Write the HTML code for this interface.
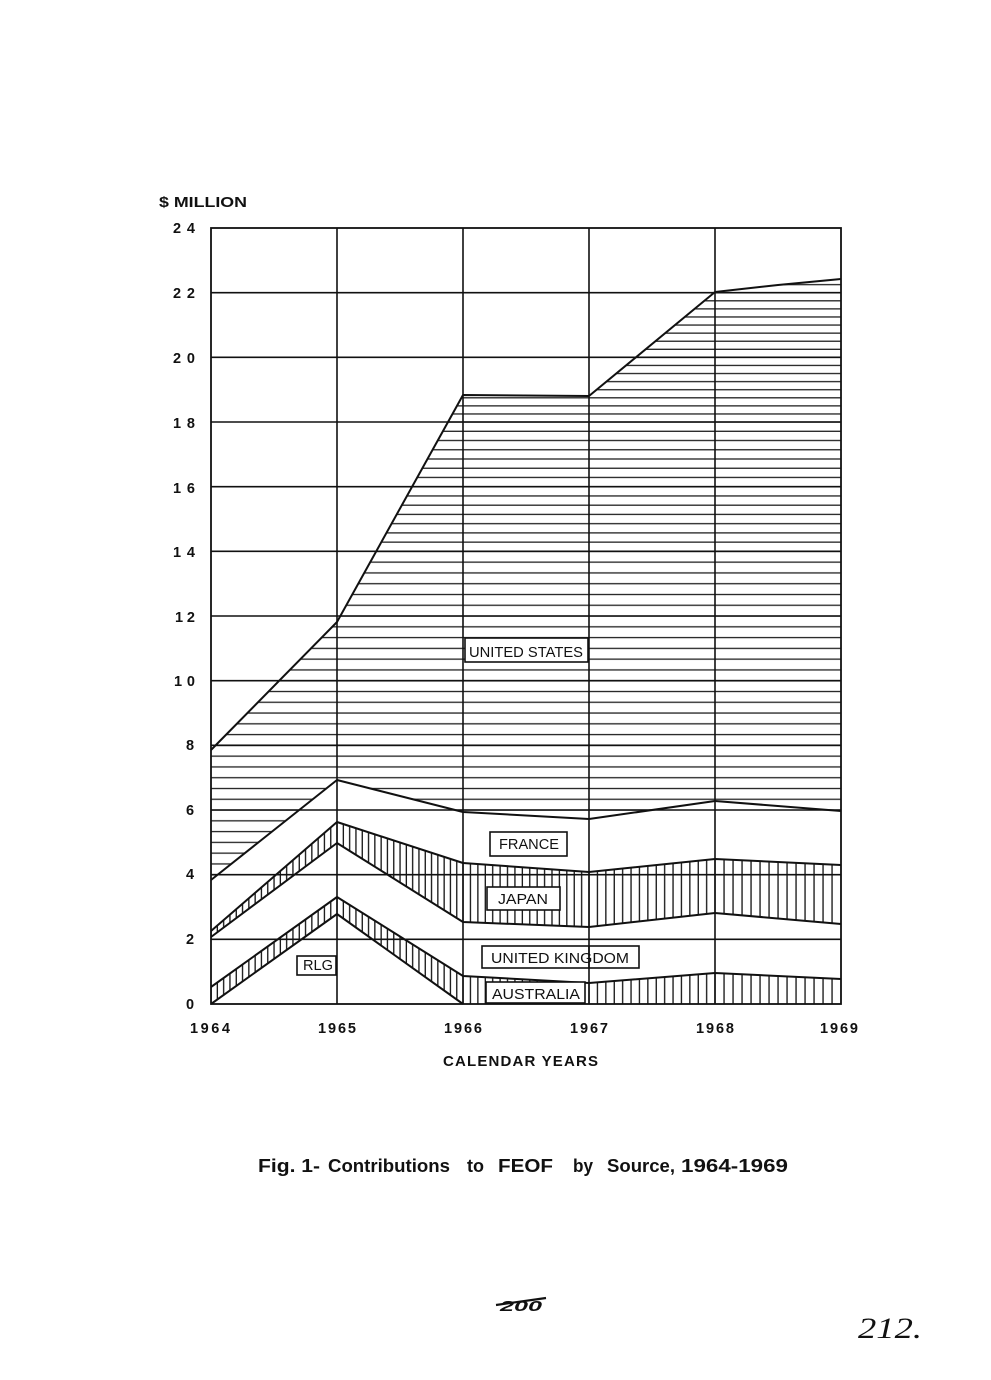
<!DOCTYPE html>
<html>
<head>
<meta charset="utf-8">
<style>
  html, body { margin: 0; padding: 0; background: #ffffff; }
  svg { display: block; }
  text { font-family: "Liberation Sans", "DejaVu Sans", sans-serif; fill: #111; }
</style>
</head>
<body>
<svg width="991" height="1380" viewBox="0 0 991 1380" xmlns="http://www.w3.org/2000/svg">
  <defs>
    <pattern id="hA" patternUnits="userSpaceOnUse" x="0" y="998.611" width="20" height="10.778">
      <rect x="0" y="4.789" width="20" height="1.3" fill="#222"/>
    </pattern>
    <pattern id="hB" patternUnits="userSpaceOnUse" x="0" y="546.71" width="20" height="9.238">
      <rect x="0" y="4.019" width="20" height="1.3" fill="#222"/>
    </pattern>
    <pattern id="hC" patternUnits="userSpaceOnUse" x="0" y="417.96" width="20" height="8.083">
      <rect x="0" y="3.442" width="20" height="1.3" fill="#222"/>
    </pattern>
    <pattern id="vA" patternUnits="userSpaceOnUse" x="207.85" y="0" width="6.3" height="20">
      <rect x="2.55" y="0" width="1.3" height="20" fill="#111"/>
    </pattern>
    <pattern id="vB" patternUnits="userSpaceOnUse" x="459.294" y="0" width="7.412" height="20">
      <rect x="3.106" y="0" width="1.3" height="20" fill="#111"/>
    </pattern>
    <pattern id="vC" patternUnits="userSpaceOnUse" x="584.8" y="0" width="8.4" height="20">
      <rect x="3.6" y="0" width="1.3" height="20" fill="#111"/>
    </pattern>
    <pattern id="vD" patternUnits="userSpaceOnUse" x="710.5" y="0" width="9" height="20">
      <rect x="3.9" y="0" width="1.3" height="20" fill="#111"/>
    </pattern>
    <clipPath id="cA"><rect x="200" y="551.33" width="660" height="460"/></clipPath>
    <clipPath id="cB"><rect x="200" y="422" width="660" height="129.33"/></clipPath>
    <clipPath id="cC"><rect x="200" y="200" width="660" height="222"/></clipPath>
  </defs>

  <rect x="0" y="0" width="991" height="1380" fill="#ffffff"/>

  <g>
    <polygon clip-path="url(#cA)" fill="url(#hA)" points="211,750 337,622 463,395 589,396 715,292 778,285 841,279 841,811 715,801 589,819 463,812 337,780 211,880"/>
    <polygon clip-path="url(#cB)" fill="url(#hB)" points="211,750 337,622 463,395 589,396 715,292 778,285 841,279 841,811 715,801 589,819 463,812 337,780 211,880"/>
    <polygon clip-path="url(#cC)" fill="url(#hC)" points="211,750 337,622 463,395 589,396 715,292 778,285 841,279 841,811 715,801 589,819 463,812 337,780 211,880"/>
  </g>

  <polygon fill="url(#vA)" points="211,987 337,897 463,976 463,1004 337,914 211,1004"/>
  <polygon fill="url(#vB)" points="463,976 589,983 589,1004 463,1004"/>
  <polygon fill="url(#vC)" points="589,983 715,973 715,1004 589,1004"/>
  <polygon fill="url(#vD)" points="715,973 841,979 841,1004 715,1004"/>

  <polygon fill="url(#vA)" points="211,931 337,822 463,863 463,922 337,843 211,937"/>
  <polygon fill="url(#vB)" points="463,863 589,872 589,927 463,922"/>
  <polygon fill="url(#vC)" points="589,872 715,859 715,913 589,927"/>
  <polygon fill="url(#vD)" points="715,859 841,865 841,924 715,913"/>

  <g fill="none" stroke="#111" stroke-width="2" stroke-linejoin="round">
    <polyline points="211,1004 337,914 463,1004"/>
    <polyline points="211,987 337,897 463,976 589,983 715,973 841,979"/>
    <polyline points="211,937 337,843 463,922 589,927 715,913 841,924"/>
    <polyline points="211,931 337,822 463,863 589,872 715,859 841,865"/>
    <polyline points="211,880 337,780 463,812 589,819 715,801 841,811"/>
    <polyline points="211,750 337,622 463,395 589,396 715,292 778,285 841,279"/>
  </g>

  <g fill="#ffffff" stroke="#111" stroke-width="1.6">
    <rect x="465" y="638" width="123" height="24"/>
    <rect x="490" y="832" width="77" height="24"/>
    <rect x="487" y="887" width="73" height="23"/>
    <rect x="482" y="946" width="157" height="22"/>
    <rect x="486" y="982" width="99" height="21"/>
    <rect x="297" y="956" width="39" height="19"/>
  </g>

  <g stroke="#111" stroke-width="1.6" fill="none">
    <line x1="211" y1="939.33" x2="841" y2="939.33"/>
    <line x1="211" y1="874.67" x2="841" y2="874.67"/>
    <line x1="211" y1="810" x2="841" y2="810"/>
    <line x1="211" y1="745.33" x2="841" y2="745.33"/>
    <line x1="211" y1="680.67" x2="841" y2="680.67"/>
    <line x1="211" y1="616" x2="841" y2="616"/>
    <line x1="211" y1="551.33" x2="841" y2="551.33"/>
    <line x1="211" y1="486.67" x2="841" y2="486.67"/>
    <line x1="211" y1="422" x2="841" y2="422"/>
    <line x1="211" y1="357.33" x2="841" y2="357.33"/>
    <line x1="211" y1="292.67" x2="841" y2="292.67"/>
    <line x1="337" y1="228" x2="337" y2="1004"/>
    <line x1="463" y1="228" x2="463" y2="1004"/>
    <line x1="589" y1="228" x2="589" y2="1004"/>
    <line x1="715" y1="228" x2="715" y2="1004"/>
    <rect x="211" y="228" width="630" height="776" stroke-width="1.8"/>
  </g>

  <g font-size="14.5">
    <text x="469" y="657" textLength="114" lengthAdjust="spacingAndGlyphs">UNITED STATES</text>
    <text x="499" y="849" textLength="60" lengthAdjust="spacingAndGlyphs">FRANCE</text>
    <text x="498" y="904" textLength="50" lengthAdjust="spacingAndGlyphs">JAPAN</text>
    <text x="491" y="963" textLength="138" lengthAdjust="spacingAndGlyphs">UNITED KINGDOM</text>
    <text x="492" y="999" textLength="88" lengthAdjust="spacingAndGlyphs">AUSTRALIA</text>
    <text x="303" y="970" textLength="30" lengthAdjust="spacingAndGlyphs">RLG</text>
  </g>
  <line x1="589" y1="946" x2="589" y2="968" stroke="#111" stroke-width="1.6"/>

  <text x="159" y="207" font-size="15" font-weight="bold" textLength="88" lengthAdjust="spacingAndGlyphs">$  MILLION</text>

  <g font-size="14.5" font-weight="bold">
    <text x="173" y="233" textLength="22" lengthAdjust="spacing">24</text>
    <text x="173" y="298" textLength="22" lengthAdjust="spacing">22</text>
    <text x="173" y="363" textLength="22" lengthAdjust="spacing">20</text>
    <text x="173" y="428" textLength="22" lengthAdjust="spacing">18</text>
    <text x="173" y="493" textLength="22" lengthAdjust="spacing">16</text>
    <text x="173" y="557" textLength="22" lengthAdjust="spacing">14</text>
    <text x="175" y="622" textLength="20" lengthAdjust="spacing">12</text>
    <text x="174" y="686" textLength="21" lengthAdjust="spacing">10</text>
    <text x="186" y="750">8</text>
    <text x="186" y="815">6</text>
    <text x="186" y="879">4</text>
    <text x="186" y="944">2</text>
    <text x="186" y="1009">0</text>
  </g>

  <g font-size="14.5" font-weight="bold" text-anchor="middle">
    <text x="210" y="1033" textLength="40" lengthAdjust="spacing">1964</text>
    <text x="337" y="1033" textLength="38" lengthAdjust="spacing">1965</text>
    <text x="463" y="1033" textLength="38" lengthAdjust="spacing">1966</text>
    <text x="589" y="1033" textLength="38" lengthAdjust="spacing">1967</text>
    <text x="715" y="1033" textLength="38" lengthAdjust="spacing">1968</text>
    <text x="839" y="1033" textLength="38" lengthAdjust="spacing">1969</text>
  </g>

  <text x="443" y="1066" font-size="15" font-weight="bold" textLength="155" lengthAdjust="spacing">CALENDAR  YEARS</text>

  <!-- caption, placed word by word -->
  <g font-size="18.5" font-weight="bold">
    <text x="258" y="1172" textLength="62" lengthAdjust="spacingAndGlyphs">Fig. 1-</text>
    <text x="328" y="1172" textLength="122" lengthAdjust="spacingAndGlyphs">Contributions</text>
    <text x="467" y="1172" textLength="17" lengthAdjust="spacingAndGlyphs">to</text>
    <text x="498" y="1172" textLength="55" lengthAdjust="spacingAndGlyphs">FEOF</text>
    <text x="573" y="1172" textLength="20" lengthAdjust="spacingAndGlyphs">by</text>
    <text x="607" y="1172" textLength="68" lengthAdjust="spacingAndGlyphs">Source,</text>
    <text x="681" y="1172" textLength="107" lengthAdjust="spacingAndGlyphs">1964-1969</text>
  </g>

  <text x="500" y="1311" font-size="15" font-weight="bold" font-style="italic" textLength="42" lengthAdjust="spacingAndGlyphs">200</text>
  <line x1="496" y1="1305" x2="546" y2="1298" stroke="#111" stroke-width="2.2"/>
  <text x="858" y="1338" font-size="30" font-style="italic" textLength="64" lengthAdjust="spacingAndGlyphs" style="font-family:'Liberation Serif', serif;">212.</text>
</svg>
</body>
</html>
